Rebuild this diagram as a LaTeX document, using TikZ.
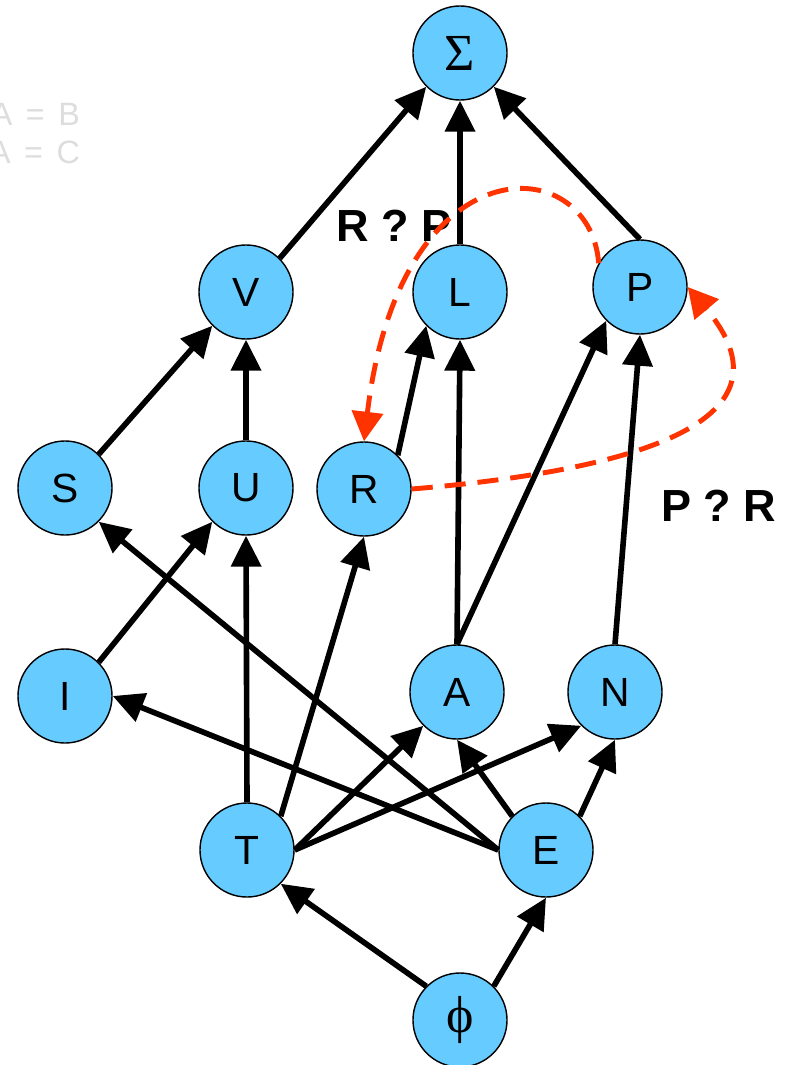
\documentclass[tikz,border=0pt]{standalone}
\usepackage{fontspec}
\setmainfont{Liberation Sans}
\newfontfamily\greekfont{Liberation Serif}
\usetikzlibrary{arrows.meta}
\definecolor{nodeblue}{RGB}{102,204,255}
\definecolor{swaporange}{RGB}{255,51,0}
\definecolor{ghostgray}{RGB}{221,221,221}
\tikzstyle{vertex} = [circle, draw, line width=1pt, fill=nodeblue, minimum size=2.35cm, inner sep=0pt, font=\fontsize{29}{34}\selectfont]
\tikzstyle{line} = [draw, line width=4pt, -{Triangle[length=22pt,width=21pt]}]
\tikzstyle{swap} = [draw=swaporange, line width=3.5pt, dash pattern=on 15pt off 8.5pt, -{Triangle[length=21pt,width=22pt]}]
\tikzstyle{note} = [font=\fontsize{32}{38}\selectfont\bfseries]
\tikzstyle{ghost} = [anchor=base east, text=ghostgray, font=\fontsize{23}{27}\selectfont]
\tikzstyle{greek} = [font=\fontsize{37}{42}\greekfont]

\begin{document}
\begin{tikzpicture}[x=0.025cm, y=-0.025cm]
		\useasboundingbox (0,0) rectangle (793,1065);
		\node [ghost] (eqb) at (85,125) {A\hspace{0.42em}=\hspace{0.42em}B};
		\node [ghost] (eqc) at (85,163) {A\hspace{0.42em}=\hspace{0.42em}C};

		\node [vertex, greek] (Sigma) at (460,53) {Σ};
		\node [vertex] (V) at (246,292) {V};
		\node [vertex] (L) at (460,292) {L};
		\node [vertex] (P) at (640,287) {P};
		\node [vertex] (S) at (65,488) {S};
		\node [vertex] (U) at (246,488) {U};
		\node [vertex] (R) at (364,489) {R};
		\node [vertex] (I) at (65,696) {I};
		\node [vertex] (A) at (457,692) {A};
		\node [vertex] (N) at (615,692) {N};
		\node [vertex] (T) at (247,850) {T};
		\node [vertex] (E) at (546,850) {E};
		\node [vertex, greek] (phi) at (460,1020) {ϕ};

		\node [note] (rp) at (394,226) {R ? P};
		\node [note] (pr) at (719,506) {P ? R};

		\path [line] (V.45) -- (Sigma.225);
		\path [line] (L.north) -- (Sigma.south);
		\path [line] (P.north) -- (Sigma.-45);
		\path [line] (S.45) -- (V.225);
		\path [line] (U.north) -- (V.south);
		\path [line] (R.45) -- (L.225);
		\path [line] (A.north) -- (L.south);
		\path [line] (A.north) -- (P.225);
		\path [line] (N.north) -- (P.south);
		\path [line] (I.45) -- (U.225);
		\path [line] (T.north) -- (U.south);
		\path [line] (T.45) -- (R.south);
		\path [line] (T.east) -- (A.225);
		\path [line] (T.east) -- (N.225);
		\path [line] (E.west) -- (S.-45);
		\path [line] (E.west) -- (I.east);
		\path [line] (E.135) -- (A.south);
		\path [line] (E.45) -- (N.south);
		\path [line] (phi.135) -- (T.-45);
		\path [line] (phi.45) -- (E.south);

		\path [swap] (P.150) .. controls (590,150) and (400,140) .. (R.north);
		\path [swap] (R.east) .. controls (640,470) and (800,420) .. (P.east);
	\end{tikzpicture}
\end{document}
